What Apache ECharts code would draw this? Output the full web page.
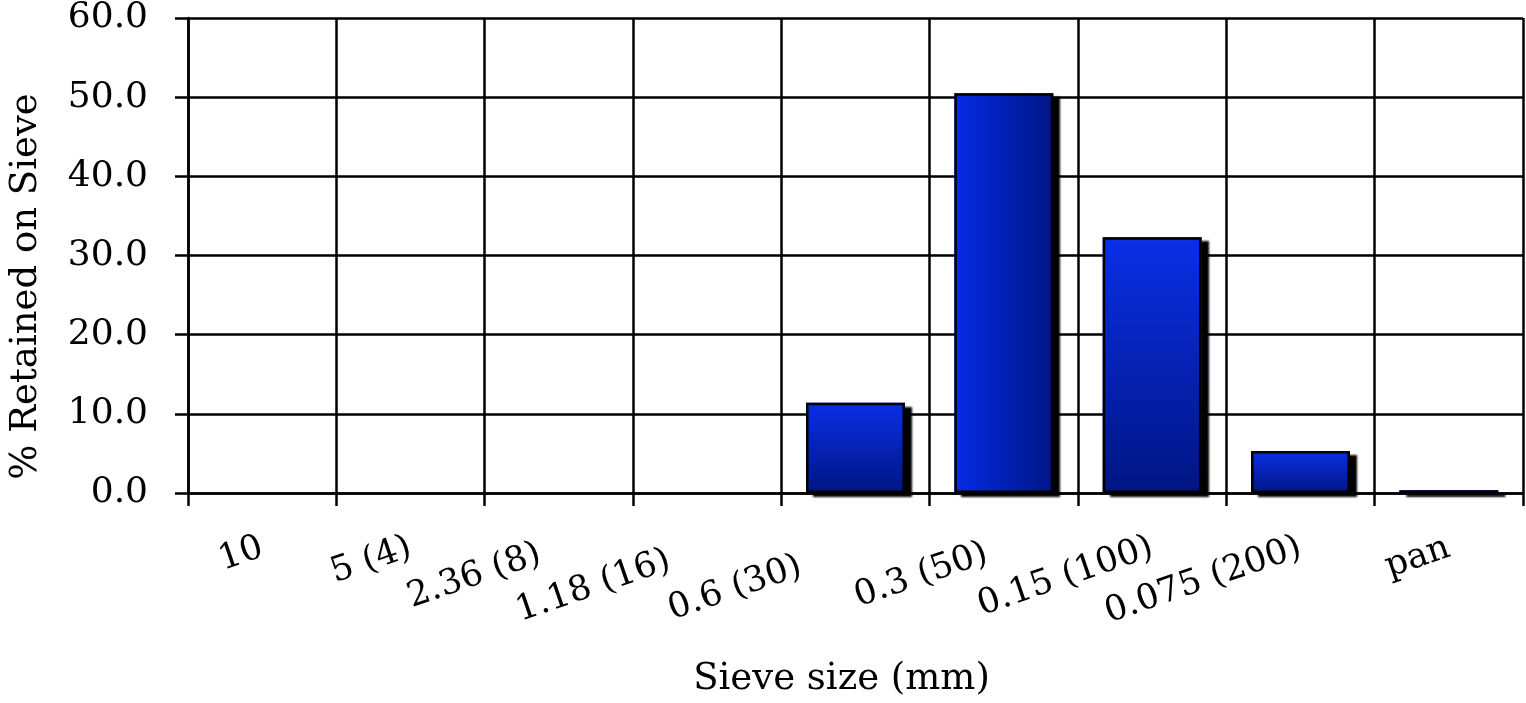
<!DOCTYPE html>
<html>
<head>
<meta charset="utf-8">
<script src="https://cdn.jsdelivr.net/npm/echarts@6/dist/echarts.min.js"></script>
<style>
html,body{margin:0;padding:0;background:#fff;}
#main{width:1526px;height:703px;}
</style>
</head>
<body>
<div id="main"></div>
<script>
const categories = ['10', '5 (4)', '2.36 (8)', '1.18 (16)', '0.6 (30)', '0.3 (50)', '0.15 (100)', '0.075 (200)', 'pan'];
const retained = [0, 0, 0, 0, 11.4, 50.5, 32.3, 5.3, 0.35];
const labelShift = [0, 0, 20, 40, 58, 18, 0, 0, 0];
const yTicks = { min: 0, max: 60, interval: 10 };

const FONT = 'DejaVu Serif';
const LW = 2.5;

const vGrad = new echarts.graphic.LinearGradient(0, 0, 0, 1, [
  { offset: 0, color: '#0a2fe6' },
  { offset: 1, color: '#001583' }
]);
const hGrad = new echarts.graphic.LinearGradient(0, 0, 1, 0, [
  { offset: 0, color: '#042ce6' },
  { offset: 1, color: '#001585' }
]);

const fillData = retained.map((v, i) => ({
  value: v,
  itemStyle: v === 0
    ? { color: 'transparent', shadowColor: 'transparent' }
    : { color: i === 5 ? hGrad : vGrad }
}));
const borderData = retained.map(v => ({
  value: v,
  itemStyle: v === 0 ? { borderWidth: 0 } : {}
}));

const xData = categories.map((c, i) => ({
  value: c,
  textStyle: { padding: [0, labelShift[i], 0, 0] }
}));

const chart = echarts.init(document.getElementById('main'));
chart.setOption({
  animation: false,
  backgroundColor: '#fff',
  grid: { left: 187, right: 3, top: 17, bottom: 209 },
  xAxis: {
    type: 'category',
    data: xData,
    boundaryGap: true,
    name: 'Sieve size (mm)',
    nameLocation: 'middle',
    nameGap: 168,
    nameTextStyle: { fontFamily: FONT, fontSize: 37, color: '#000', padding: [0, 28, 0, 0] },
    axisLine: { show: true, lineStyle: { color: '#000', width: LW } },
    axisTick: { show: true, length: 13, lineStyle: { color: '#000', width: LW } },
    axisLabel: {
      interval: 0,
      rotate: 19,
      margin: 54,
      fontFamily: FONT,
      fontSize: 35,
      color: '#000'
    },
    splitLine: { show: true, lineStyle: { color: '#000', width: LW } }
  },
  yAxis: {
    type: 'value',
    min: yTicks.min,
    max: yTicks.max,
    interval: yTicks.interval,
    name: '% Retained on Sieve',
    nameLocation: 'middle',
    nameGap: 143,
    nameTextStyle: { fontFamily: FONT, fontSize: 37, color: '#000', padding: [0, 62, 0, 0] },
    axisLine: { show: true, lineStyle: { color: '#000', width: LW } },
    axisTick: { show: true, length: 13, lineStyle: { color: '#000', width: LW } },
    axisLabel: {
      margin: 40,
      fontFamily: FONT,
      fontSize: 36,
      color: '#000',
      formatter: v => v.toFixed(1)
    },
    splitLine: { show: true, lineStyle: { color: '#000', width: LW } }
  },
  series: [{
    type: 'bar',
    data: fillData,
    barWidth: '66.7%',
    barGap: '-100%',
    itemStyle: {
      borderWidth: 0,
      shadowColor: 'rgba(0,0,0,1)',
      shadowBlur: 2,
      shadowOffsetX: 7,
      shadowOffsetY: 4
    }
  }, {
    type: 'bar',
    data: borderData,
    barWidth: '66.7%',
    barGap: '-100%',
    itemStyle: {
      color: 'transparent',
      borderColor: '#000',
      borderWidth: 2.5
    }
  }]
});
</script>
</body>
</html>
